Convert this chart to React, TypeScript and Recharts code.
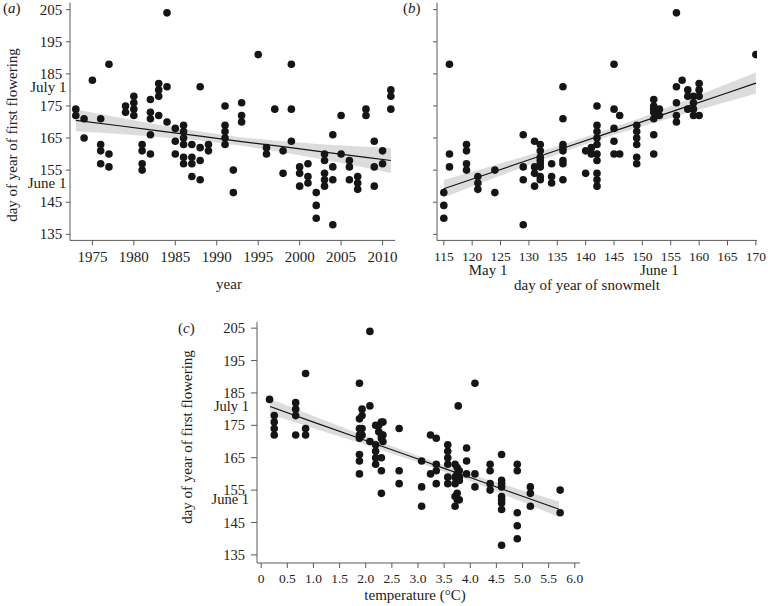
import React from 'react';
import { ComposedChart, Scatter, Line, Area, XAxis, YAxis, Label } from 'recharts';

const FONT = '"Liberation Serif", "Times New Roman", Times, serif';
const INK = '#151515';
const AXIS = '#5a5a5a';
const BAND = '#d6d6d6';

// ---------- shared y axis ----------
const dayTicks = [135, 145, 155, 165, 175, 185, 195, 205];
const dateNames = ['June 1', 'July 1'];
const dateDaysA = [151, 181];
const dateDaysC = [152.3, 181];

// ---------- panel (a): year ----------
const yearTicks = [1975, 1980, 1985, 1990, 1995, 2000, 2005, 2010];
const flowerByYear: [number, number[]][] = [
  [1973, [174, 172]], [1974, [171, 165]], [1975, [183]], [1976, [171, 163, 161, 157]],
  [1977, [188, 160, 156]], [1979, [175, 173]], [1980, [178, 176, 174, 172]],
  [1981, [163, 161, 157, 155]], [1982, [177, 173, 171, 166, 160]], [1983, [182, 180, 178, 172]],
  [1984, [204, 181, 170]], [1985, [168, 164, 160]], [1986, [169, 167, 165, 163, 159, 157]],
  [1987, [163, 159, 157, 153]], [1988, [181, 162, 158, 152]], [1989, [163, 161]],
  [1991, [175, 169, 167, 165, 163]], [1992, [155, 148]], [1993, [176, 172, 170]],
  [1995, [191]], [1996, [162, 160]], [1997, [174]], [1998, [161, 154]], [1999, [188, 174, 164]],
  [2000, [156, 154, 150]], [2001, [157, 153, 151]], [2002, [148, 144, 140]],
  [2003, [160, 158, 154, 152, 150]], [2004, [166, 156, 152, 138]], [2005, [172, 160]],
  [2006, [158, 156, 152]], [2007, [153, 151, 149]], [2008, [174, 172]],
  [2009, [164, 156, 150]], [2010, [161, 157]], [2011, [180, 178, 174]],
];
const fitYears = [1973, 1978, 1983, 1988, 1993, 1998, 2003, 2008, 2011];
const fitYearDay = [170.5, 168.9, 167.2, 165.6, 163.9, 162.3, 160.6, 159.0, 158.0];
const fitYearLo = [167.1, 166.3, 165.3, 164.2, 162.6, 160.6, 158.2, 155.7, 154.1];
const fitYearHi = [173.9, 171.5, 169.1, 167.0, 165.2, 164.0, 163.0, 162.3, 161.9];

// ---------- panel (b): snowmelt ----------
const snowTicks = [115, 120, 125, 130, 135, 140, 145, 150, 155, 160, 165, 170];
const snowDateDays = [122.8, 153];
const snowDateNames = ['May 1', 'June 1'];
const flowerBySnow: [number, number[]][] = [
  [115, [148, 144, 140]], [116, [188, 160, 156]], [119, [163, 161, 157, 155]],
  [121, [153, 151, 149]], [124, [155, 148]], [129, [166, 156, 152, 138]],
  [131, [164, 156, 154, 150]], [132, [163, 161, 159, 158, 157, 156, 153, 152]],
  [134, [157, 153, 151]], [136, [181, 171, 163, 162, 161, 158, 157, 152]],
  [140, [161, 154]], [141, [162, 160]], [142, [175, 169, 167, 165, 163, 160, 158, 154, 152, 150]],
  [145, [188, 174, 168, 164, 160]], [146, [172, 160]], [149, [169, 167, 165, 163, 159, 157]],
  [152, [177, 175, 174, 173, 171, 166, 160]], [153, [174, 172]],
  [156, [204, 181, 176, 172, 170]], [157, [183]], [158, [180, 178, 174]],
  [159, [178, 176, 174, 172]], [160, [182, 180, 178, 172]], [170, [191]],
];
const fitSnow = [115, 122, 129, 136, 143, 150, 157, 164, 170];
const fitSnowDay = [149.2, 153.4, 157.6, 161.8, 166.0, 170.1, 174.3, 178.5, 182.1];
const fitSnowLo = [146.5, 151.3, 156.0, 160.6, 164.9, 168.7, 172.3, 175.8, 178.8];
const fitSnowHi = [151.9, 155.5, 159.2, 163.0, 167.1, 171.5, 176.3, 181.2, 185.4];

// ---------- panel (c): temperature ----------
const tempTicks = [0, 0.5, 1, 1.5, 2, 2.5, 3, 3.5, 4, 4.5, 5, 5.5, 6];
const tempTickLabels = ['0', '0.5', '1.0', '1.5', '2.0', '2.5', '3.0', '3.5', '4.0', '4.5', '5.0', '5.5', '6.0'];
const flowerByTemp: [number, number[]][] = [
  [0.16, [183]], [0.25, [178, 176, 174, 172]], [0.66, [182, 180, 178, 172]],
  [0.85, [191, 174, 172]], [1.88, [188, 177, 174, 172, 171, 166, 164, 160]],
  [1.93, [180, 178, 174, 172]], [2.08, [204, 181, 170]], [2.19, [175, 169, 167, 165, 163]],
  [2.25, [175, 173]], [2.3, [176, 172, 171, 165, 161, 154]], [2.33, [176, 172, 170]],
  [2.64, [174, 161, 157]], [3.07, [164, 156, 150]], [3.24, [172, 160]],
  [3.35, [171, 163, 161, 157]], [3.57, [169, 167, 165, 163, 159, 157]],
  [3.71, [163, 159, 157, 153, 150]], [3.75, [162, 160, 154, 152]], [3.77, [181]],
  [3.79, [161, 159, 158, 152]], [3.93, [168, 164, 160]], [4.09, [188, 160, 156]],
  [4.38, [163, 161, 157, 155]], [4.6, [166, 158, 157, 156, 153, 152, 151, 149, 138]],
  [4.9, [163, 161, 148, 144, 140]], [5.15, [156, 154, 150]], [5.72, [155, 148]],
];
const fitTemp = [0.17, 1.0, 2.0, 3.0, 3.5, 4.0, 5.0, 5.7];
const fitTempDay = [180.8, 176.0, 170.3, 164.6, 161.7, 158.9, 153.1, 149.1];
const fitTempLo = [178.4, 174.1, 169.0, 163.6, 160.7, 157.8, 151.3, 146.7];
const fitTempHi = [183.2, 177.9, 171.6, 165.6, 162.7, 160.0, 154.9, 151.5];

// ---------- helpers ----------
const toPoints = (groups: [number, number[]][]) =>
  groups.flatMap(([x, ys]) => ys.map((y) => ({ x, y })));
const toFitRows = (xs: number[], fit: number[], lo: number[], hi: number[]) =>
  xs.map((x, i) => ({ x, fit: fit[i], band: [lo[i], hi[i]] }));

const Dot = (props: any) =>
  props.cx == null ? <g /> : <circle cx={props.cx} cy={props.cy} r={3.8} fill={INK} />;

const makeYTick = (
  axisX: number,
  o: { numbers: boolean; numGap: number; dateGap: number; len: number; size: number; dates: number[] }
) =>
  (props: any) => {
    const { y, payload } = props;
    const v = payload.value;
    const di = o.dates.indexOf(v);
    if (di >= 0) {
      if (!o.numbers) return <g />;
      return (
        <text x={axisX - o.dateGap} y={y} dy={5} textAnchor="end" fontFamily={FONT} fontSize={o.size} fill="#222">
          {dateNames[di]}
        </text>
      );
    }
    return (
      <g>
        <line x1={axisX - o.len} x2={axisX} y1={y} y2={y} stroke={AXIS} strokeWidth={1} />
        {o.numbers && (
          <text x={axisX - o.numGap} y={y} dy={5} textAnchor="end" fontFamily={FONT} fontSize={o.size} fill="#222">
            {v}
          </text>
        )}
      </g>
    );
  };

const makeXTick = (
  axisY: number,
  o: { base: number; len: number; size: number; fmt: (v: number) => string; dates?: number[]; dateNames?: string[]; dateBase?: number; dateSize?: number }
) =>
  (props: any) => {
    const { x, payload } = props;
    const v = payload.value;
    const di = o.dates ? o.dates.indexOf(v) : -1;
    if (di >= 0) {
      return (
        <text x={x} y={axisY + (o.dateBase || 0)} textAnchor="middle" fontFamily={FONT} fontSize={o.dateSize} fill="#222">
          {o.dateNames![di]}
        </text>
      );
    }
    return (
      <g>
        <line x1={x} x2={x} y1={axisY} y2={axisY + o.len} stroke={AXIS} strokeWidth={1} />
        <text x={x} y={axisY + o.base} textAnchor="middle" fontFamily={FONT} fontSize={o.size} fill="#222">
          {o.fmt(v)}
        </text>
      </g>
    );
  };

const txt = (x: number, y: number, s: string, size: number, rotate = false, anchor = 'middle') => (
  <text
    x={x}
    y={y}
    textAnchor={anchor as any}
    fontFamily={FONT}
    fontSize={size}
    fill="#222"
    transform={rotate ? `rotate(-90 ${x} ${y})` : undefined}
    dominantBaseline={rotate ? 'central' : undefined}
  >
    {s}
  </text>
);

const panelTag = (x: number, y: number, letter: string) => (
  <text x={x} y={y} fontFamily={FONT} fontSize={15} fill="#222">
    (<tspan fontStyle="italic">{letter}</tspan>)
  </text>
);

const axisLineStyle = { stroke: AXIS, strokeWidth: 1 };

export default function App() {
  const ptsA = toPoints(flowerByYear);
  const ptsB = toPoints(flowerBySnow);
  const ptsC = toPoints(flowerByTemp);
  const rowsA = toFitRows(fitYears, fitYearDay, fitYearLo, fitYearHi);
  const rowsB = toFitRows(fitSnow, fitSnowDay, fitSnowLo, fitSnowHi);
  const rowsC = toFitRows(fitTemp, fitTempDay, fitTempLo, fitTempHi);

  const aAxisX = 70;
  const aAxisY = 300 - 4.6 - 55;
  const bAxisX = 57;
  const bAxisY = 300 - 4.6 - 55;
  const cAxisX = 87;
  const cAxisY = 306 - 3 - 40;

  return (
    <div style={{ position: 'absolute', left: 0, top: 0, width: 768, height: 606, background: '#fff', fontFamily: FONT }}>
      {/* (a) */}
      <div style={{ position: 'absolute', left: 0, top: 0 }}>
        <ComposedChart width={400} height={300} data={rowsA} margin={{ top: 2.6, right: 5, bottom: 4.6, left: 0 }}>
          <XAxis
            type="number"
            dataKey="x"
            domain={[1972.3, 2011.5]}
            allowDataOverflow
            ticks={yearTicks}
            interval={0}
            height={55}
            axisLine={axisLineStyle}
            tickLine={false}
            tick={makeXTick(aAxisY, { base: 21.3, len: 5, size: 15, fmt: (v) => String(v) })}
          >
            <Label content={() => txt(229, 289, 'year', 15)} />
          </XAxis>
          <YAxis
            type="number"
            domain={[133.1, 207.2]}
            allowDataOverflow
            ticks={[...dayTicks, ...dateDaysA].sort((p, q) => p - q)}
            interval={0}
            width={70}
            axisLine={axisLineStyle}
            tickLine={false}
            tick={makeYTick(aAxisX, { numbers: true, numGap: 7.7, dateGap: 3.5, len: 4, size: 15, dates: dateDaysA })}
          >
            <Label content={() => txt(12, 135, 'day of year of first flowering', 15, true)} />
            <Label content={() => panelTag(3, 13, 'a')} />
          </YAxis>
          <Area type="linear" dataKey="band" fill={BAND} fillOpacity={0.85} stroke="none" isAnimationActive={false} />
          <Line type="linear" dataKey="fit" stroke={INK} strokeWidth={1.2} dot={false} isAnimationActive={false} />
          <Scatter data={ptsA} dataKey="y" shape={Dot} isAnimationActive={false} />
        </ComposedChart>
      </div>

      {/* (b) */}
      <div style={{ position: 'absolute', left: 380, top: 0 }}>
        <ComposedChart width={388} height={300} data={rowsB} margin={{ top: 2.6, right: 11, bottom: 4.6, left: 0 }}>
          <XAxis
            type="number"
            dataKey="x"
            domain={[113.8, 170.2]}
            allowDataOverflow
            ticks={[...snowTicks, ...snowDateDays].sort((p, q) => p - q)}
            interval={0}
            height={55}
            axisLine={axisLineStyle}
            tickLine={false}
            tick={makeXTick(bAxisY, {
              base: 20.3,
              len: 5,
              size: 13.5,
              fmt: (v) => String(v),
              dates: snowDateDays,
              dateNames: snowDateNames,
              dateBase: 35,
              dateSize: 15,
            })}
          >
            <Label content={() => txt(207, 290, 'day of year of snowmelt', 15)} />
          </XAxis>
          <YAxis
            type="number"
            domain={[133.1, 207.2]}
            allowDataOverflow
            ticks={dayTicks}
            interval={0}
            width={57}
            axisLine={axisLineStyle}
            tickLine={false}
            tick={makeYTick(bAxisX, { numbers: false, numGap: 7.7, dateGap: 3.5, len: 4, size: 15, dates: [] })}
          >
            <Label content={() => panelTag(23, 13, 'b')} />
          </YAxis>
          <Area type="linear" dataKey="band" fill={BAND} fillOpacity={0.85} stroke="none" isAnimationActive={false} />
          <Line type="linear" dataKey="fit" stroke={INK} strokeWidth={1.2} dot={false} isAnimationActive={false} />
          <Scatter data={ptsB} dataKey="y" shape={Dot} isAnimationActive={false} />
        </ComposedChart>
      </div>

      {/* (c) */}
      <div style={{ position: 'absolute', left: 170, top: 300 }}>
        <ComposedChart width={430} height={306} data={rowsC} margin={{ top: 22, right: 20, bottom: 3, left: 0 }}>
          <XAxis
            type="number"
            dataKey="x"
            domain={[-0.08, 6.1]}
            allowDataOverflow
            ticks={tempTicks}
            interval={0}
            height={40}
            axisLine={axisLineStyle}
            tickLine={false}
            tick={makeXTick(cAxisY, {
              base: 19.7,
              len: 5,
              size: 13.5,
              fmt: (v) => tempTickLabels[tempTicks.indexOf(v)] ?? String(v),
            })}
          >
            <Label content={() => txt(245, 300, 'temperature (°C)', 15)} />
          </XAxis>
          <YAxis
            type="number"
            domain={[132.5, 206.9]}
            allowDataOverflow
            ticks={[...dayTicks, ...dateDaysC].sort((p, q) => p - q)}
            interval={0}
            width={87}
            axisLine={axisLineStyle}
            tickLine={false}
            tick={makeYTick(cAxisX, { numbers: true, numGap: 12, dateGap: 8, len: 6, size: 14.5, dates: dateDaysC })}
          >
            <Label content={() => txt(17, 137, 'day of year of first flowering', 15, true)} />
            <Label content={() => panelTag(8, 33, 'c')} />
          </YAxis>
          <Area type="linear" dataKey="band" fill={BAND} fillOpacity={0.85} stroke="none" isAnimationActive={false} />
          <Line type="linear" dataKey="fit" stroke={INK} strokeWidth={1.2} dot={false} isAnimationActive={false} />
          <Scatter data={ptsC} dataKey="y" shape={Dot} isAnimationActive={false} />
        </ComposedChart>
      </div>
    </div>
  );
}
